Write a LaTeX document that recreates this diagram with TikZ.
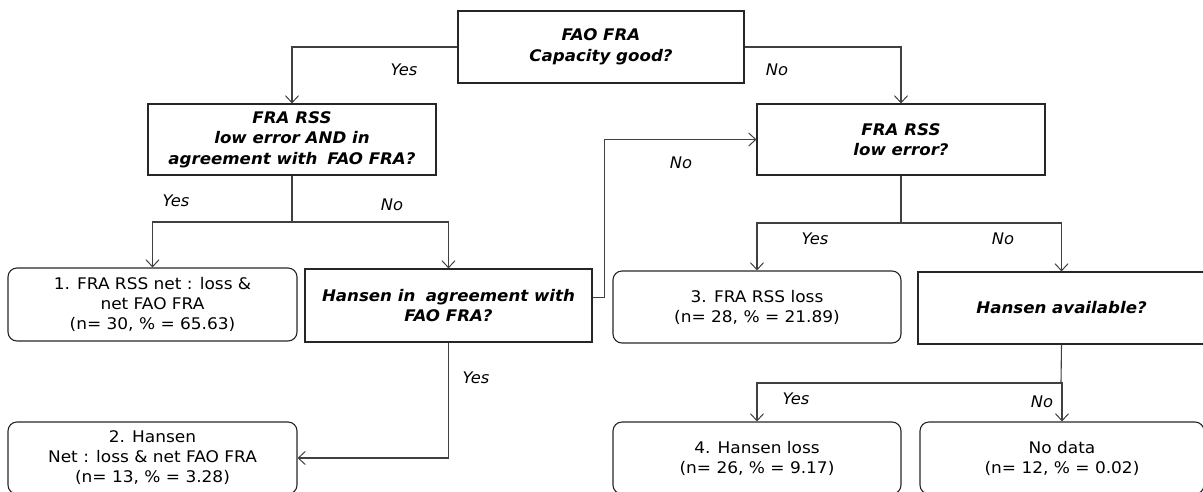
\documentclass[tikz,border=0pt]{standalone}
\usepackage{fontspec}
\setmainfont{DejaVu Sans}[FakeStretch=1.06]
\newfontfamily\qfont{DejaVu Sans}[FakeStretch=1.04]
\newfontfamily\lfont{DejaVu Sans}[FakeStretch=1.02]
\usetikzlibrary{arrows.meta}
\begin{document}
\begin{tikzpicture}[x=1pt,y=-1pt,
  font=\fontsize{16}{20}\selectfont,
  qbox/.style={draw=black!85,line width=1.1pt,align=center,inner sep=0pt,font=\qfont\fontsize{16}{20.5}\selectfont\bfseries\itshape},
  rbox/.style={draw=black!85,line width=1.1pt,align=center,inner sep=0pt,rounded corners=9pt,font=\fontsize{16}{20}\selectfont},
  conn/.style={draw=black!75,line width=1.1pt},
  arr/.style={conn,-{Straight Barb[length=7pt,width=13pt,line width=1pt]}},
  lab/.style={font=\lfont\fontsize{16}{20}\selectfont\itshape,inner sep=0pt}]
\useasboundingbox (0,0) rectangle (1203,491);
% decision boxes
\node[qbox,minimum width=286pt,minimum height=72pt] (q1) at (601,47) {FAO FRA\\Capacity good?};
\node[qbox,minimum width=288pt,minimum height=71pt] (q2) at (292,139.5) {FRA RSS\\low error AND in\\agreement with\hspace{0.25em} FAO FRA?};
\node[qbox,minimum width=288pt,minimum height=71pt] (q3) at (901,139.5) {FRA RSS\\low error?};
\node[qbox,minimum width=287pt,minimum height=73pt] (q4) at (448.5,305.5) {Hansen in\hspace{0.3em} agreement with\\FAO FRA?};
\node[qbox,minimum width=287pt,minimum height=72pt] (q5) at (1061.5,308) {Hansen available?};
% result boxes
\node[rbox,minimum width=289pt,minimum height=73pt] (r1) at (152.5,304.5) {1. FRA RSS net : loss \&\\net FAO FRA\\(n= 30, \% = 65.63)};
\node[rbox,minimum width=289pt,minimum height=72pt] (r2) at (152.5,458) {2. Hansen\\Net : loss \& net FAO FRA\\(n= 13, \% = 3.28)};
\node[rbox,minimum width=288pt,minimum height=72pt] (r3) at (757,307) {3. FRA RSS loss\\(n= 28, \% = 21.89)};
\node[rbox,minimum width=288pt,minimum height=72pt] (r4) at (757,458) {4. Hansen loss\\(n= 26, \% = 9.17)};
\node[rbox,minimum width=284pt,minimum height=72pt] (r5) at (1062,458) {No data\\(n= 12, \% = 0.02)};
% junctions
\coordinate (j1) at (292,222);
\coordinate (j2) at (901,223);
\coordinate (j3) at (1061,383);
% connectors
\draw[arr] (q1.west) -| (q2.north);
\draw[arr] (q1.east) -| (q3.north);
\draw[conn] (q2.south) -- (j1);
\draw[arr] (j1) -| (r1.north);
\draw[arr] (j1) -| (q4.north);
\draw[arr] ([yshift=8pt]q4.east) -- ++(12,0) |- (q3.west);
\draw[arr] (q4.south) |- (r2.east);
\draw[conn] (q3.south) -- (j2);
\draw[arr] (j2) -| (r3.north);
\draw[arr] (j2) -| (q5.north);
\draw[conn] (q5.south) -- (j3);
\draw[arr] (j3) -| (r4.north);
\draw[arr] (j3) -| (r5.north);
% labels
\node[lab] (l1) at (404,70) {Yes};
\node[lab] (l2) at (777,70) {No};
\node[lab] (l3) at (176,201) {Yes};
\node[lab] (l4) at (392,205) {No};
\node[lab] (l5) at (681,163) {No};
\node[lab] (l6) at (815,239) {Yes};
\node[lab] (l7) at (1003,239) {No};
\node[lab] (l8) at (476,378) {Yes};
\node[lab] (l9) at (796,399) {Yes};
\node[lab] (l10) at (1042,402) {No};
\end{tikzpicture}
\end{document}
